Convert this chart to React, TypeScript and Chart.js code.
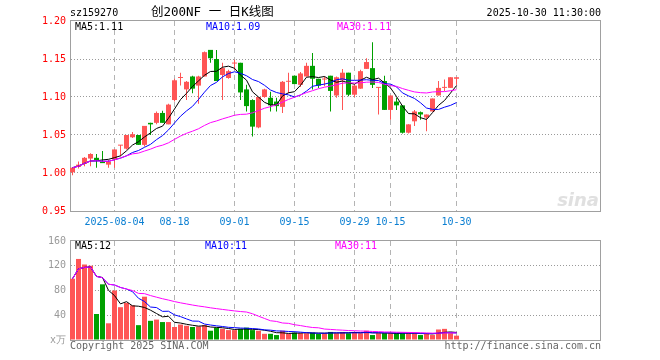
import React, { useEffect, useRef } from 'react';
import { Chart, registerables } from 'chart.js';

Chart.register(...registerables);

// ---------- data ----------
const dates = [
  '2025-07-24', '2025-07-25', '2025-07-28', '2025-07-29', '2025-07-30', '2025-07-31', '2025-08-01',
  '2025-08-04', '2025-08-05', '2025-08-06', '2025-08-07', '2025-08-08',
  '2025-08-11', '2025-08-12', '2025-08-13', '2025-08-14', '2025-08-15',
  '2025-08-18', '2025-08-19', '2025-08-20', '2025-08-21', '2025-08-22',
  '2025-08-25', '2025-08-26', '2025-08-27', '2025-08-28', '2025-08-29',
  '2025-09-01', '2025-09-02', '2025-09-03', '2025-09-04', '2025-09-05',
  '2025-09-08', '2025-09-09', '2025-09-10', '2025-09-11', '2025-09-12',
  '2025-09-15', '2025-09-16', '2025-09-17', '2025-09-18', '2025-09-19',
  '2025-09-22', '2025-09-23', '2025-09-24', '2025-09-25', '2025-09-26',
  '2025-09-29', '2025-09-30', '2025-10-09', '2025-10-10',
  '2025-10-13', '2025-10-14', '2025-10-15', '2025-10-16', '2025-10-17',
  '2025-10-20', '2025-10-21', '2025-10-22', '2025-10-23', '2025-10-24',
  '2025-10-27', '2025-10-28', '2025-10-29', '2025-10-30',
];

const openP = [
  1.001, 1.008, 1.012, 1.019, 1.020, 1.015, 1.011, 1.018, 1.036, 1.032,
  1.047, 1.050, 1.037, 1.066, 1.066, 1.079, 1.064, 1.096, 1.125, 1.110,
  1.127, 1.115, 1.127, 1.162, 1.150, 1.129, 1.125, 1.144, 1.145, 1.110,
  1.096, 1.060, 1.100, 1.099, 1.094, 1.087, 1.120, 1.128, 1.116, 1.127,
  1.141, 1.124, 1.123, 1.128, 1.102, 1.122, 1.132, 1.103, 1.111, 1.137,
  1.138, 1.112, 1.121, 1.083, 1.094, 1.089, 1.053, 1.068, 1.080, 1.073,
  1.081, 1.102, 1.112, 1.112, 1.124,
];
const highP = [
  1.007, 1.015, 1.021, 1.026, 1.025, 1.029, 1.017, 1.031, 1.037, 1.050,
  1.054, 1.050, 1.062, 1.066, 1.081, 1.082, 1.091, 1.124, 1.132, 1.121,
  1.128, 1.128, 1.160, 1.162, 1.162, 1.145, 1.136, 1.149, 1.145, 1.116,
  1.097, 1.100, 1.111, 1.107, 1.099, 1.121, 1.132, 1.128, 1.133, 1.145,
  1.158, 1.124, 1.127, 1.128, 1.127, 1.137, 1.132, 1.116, 1.136, 1.151,
  1.172, 1.113, 1.128, 1.102, 1.099, 1.089, 1.064, 1.083, 1.081, 1.077,
  1.098, 1.121, 1.123, 1.126, 1.126,
];
const lowP = [
  0.997, 1.006, 1.009, 1.009, 1.007, 1.013, 1.007, 1.007, 1.022, 1.031,
  1.046, 1.037, 1.035, 1.050, 1.064, 1.066, 1.064, 1.094, 1.115, 1.096,
  1.105, 1.091, 1.127, 1.145, 1.121, 1.096, 1.124, 1.136, 1.096, 1.081,
  1.048, 1.059, 1.099, 1.081, 1.081, 1.079, 1.105, 1.117, 1.113, 1.127,
  1.110, 1.112, 1.114, 1.081, 1.099, 1.083, 1.101, 1.100, 1.111, 1.137,
  1.112, 1.077, 1.083, 1.070, 1.083, 1.052, 1.052, 1.062, 1.070, 1.055,
  1.081, 1.102, 1.108, 1.112, 1.116,
];
const closeP = [
  1.007, 1.011, 1.020, 1.025, 1.017, 1.013, 1.015, 1.031, 1.037, 1.050,
  1.051, 1.037, 1.062, 1.064, 1.079, 1.066, 1.090, 1.122, 1.126, 1.120,
  1.111, 1.127, 1.159, 1.151, 1.121, 1.138, 1.134, 1.145, 1.106, 1.088,
  1.061, 1.100, 1.110, 1.089, 1.088, 1.120, 1.121, 1.117, 1.131, 1.141,
  1.124, 1.115, 1.124, 1.108, 1.126, 1.132, 1.103, 1.115, 1.134, 1.146,
  1.116, 1.113, 1.083, 1.102, 1.089, 1.053, 1.064, 1.081, 1.077, 1.077,
  1.098, 1.112, 1.113, 1.126, 1.126,
];

const ma5 = [
  1.007, 1.009, 1.0127, 1.0158, 1.016, 1.0172, 1.018, 1.0202, 1.0226, 1.0292,
  1.0368, 1.0412, 1.0474, 1.0528, 1.0586, 1.0616, 1.0722, 1.0842, 1.0966, 1.1048,
  1.1138, 1.1212, 1.1286, 1.1336, 1.1338, 1.1392, 1.1406, 1.1378, 1.1288, 1.1222,
  1.1068, 1.100, 1.093, 1.0896, 1.0896, 1.1014, 1.1056, 1.107, 1.1154, 1.126,
  1.1268, 1.1256, 1.127, 1.1224, 1.1194, 1.121, 1.1186, 1.1168, 1.122, 1.126,
  1.1228, 1.1248, 1.1184, 1.112, 1.1006, 1.088, 1.0782, 1.0778, 1.0728, 1.0704,
  1.0794, 1.089, 1.0954, 1.1052, 1.115,
];
const ma10 = [
  1.007, 1.009, 1.0127, 1.0158, 1.016, 1.0155, 1.0154, 1.0174, 1.0196, 1.0226,
  1.027, 1.0296, 1.0338, 1.0377, 1.0439, 1.0492, 1.0567, 1.0658, 1.0747, 1.0817,
  1.0877, 1.0967, 1.1064, 1.1151, 1.1193, 1.1265, 1.1309, 1.1332, 1.1312, 1.128,
  1.123, 1.1203, 1.1154, 1.1092, 1.1059, 1.1041, 1.1028, 1.100, 1.1025, 1.1078,
  1.1141, 1.1156, 1.117, 1.1189, 1.1227, 1.1239, 1.1221, 1.1219, 1.1222, 1.1227,
  1.1219, 1.1217, 1.1176, 1.117, 1.1133, 1.1054, 1.1015, 1.0981, 1.0924, 1.0855,
  1.0837, 1.0836, 1.0866, 1.089, 1.0927,
];
const ma30 = [
  1.007, 1.009, 1.0127, 1.0158, 1.016, 1.0155, 1.0154, 1.0174, 1.0196, 1.0226,
  1.0252, 1.0262, 1.0289, 1.0314, 1.0346, 1.0366, 1.0397, 1.0443, 1.0486, 1.0522,
  1.055, 1.0582, 1.0626, 1.0663, 1.0685, 1.0712, 1.0735, 1.076, 1.0771, 1.0774,
  1.0792, 1.0822, 1.0852, 1.0873, 1.0897, 1.0933, 1.0968, 1.0997, 1.1028, 1.1058,
  1.1083, 1.1109, 1.1129, 1.1144, 1.116, 1.1182, 1.1186, 1.1184, 1.1186, 1.1195,
  1.1197, 1.1192, 1.1167, 1.115, 1.114, 1.1111, 1.1088, 1.1067, 1.1057, 1.1053,
  1.1066, 1.107, 1.1071, 1.1083, 1.1096,
];

const volume = [
  99, 131, 122, 120, 42, 90, 27, 80, 53, 60,
  56, 24, 70, 31, 33, 29, 29, 21, 25, 23,
  21, 22, 24, 15, 20, 18, 16, 16, 18, 20,
  16, 15, 10, 10, 8, 15, 10, 12, 11, 11,
  12, 10, 11, 13, 11, 13, 11, 13, 11, 15,
  8, 11, 11, 11, 11, 11, 11, 11, 8, 11,
  8, 17, 18, 11, 7,
];
const volMa5 = [
  99, 115, 117.3, 118, 102.8, 101, 80.2, 71.8, 58.4, 62,
  55.2, 54.6, 52.6, 48.2, 42.8, 37.4, 38.4, 28.6, 27.4, 25.4,
  23.8, 22.4, 23, 21, 20.4, 19.8, 18.6, 17, 17.6, 17.6,
  17.2, 17, 15.8, 14.2, 11.8, 11.6, 10.6, 11, 11.2, 11.8,
  11.2, 11.2, 11, 11.4, 11.4, 11.6, 11.8, 12.2, 11.8, 12.6,
  11.6, 11.6, 11.2, 11.2, 10.4, 11, 11, 11, 10.4, 10.4,
  9.8, 11, 12.4, 13, 12.2,
];
const volMa10 = [
  99, 115, 117.3, 118, 102.8, 100.7, 90.1, 88.9, 84.9, 82.4,
  78.1, 67.4, 62.2, 53.3, 52.4, 46.3, 46.5, 40.6, 37.8, 34.1,
  30.6, 30.4, 25.8, 24.2, 22.9, 21.8, 20.5, 20, 19.3, 19,
  18.5, 17.8, 16.4, 15.9, 14.7, 14.4, 13.8, 13.4, 12.7, 11.8,
  11.4, 10.9, 11, 11.3, 11.6, 11.4, 11.5, 11.6, 11.6, 12,
  11.6, 11.7, 11.7, 11.5, 11.5, 11.3, 11.3, 11.1, 10.8, 10.4,
  10.4, 11, 11.7, 11.7, 11.3,
];
const volMa30 = [
  99, 115, 117.3, 118, 102.8, 100.7, 90.1, 88.9, 84.9, 82.4,
  80, 75.3, 74.9, 71.8, 69.2, 66.7, 64.5, 62.1, 60.1, 58.3,
  56.5, 54.9, 53.6, 52, 50.7, 49.4, 48.2, 47, 46, 45.2,
  42.4, 38.5, 34.8, 31.1, 30, 27.5, 26.9, 24.7, 23.3, 21.6,
  20.2, 19.7, 17.7, 17.1, 16.4, 15.9, 15.3, 15, 14.5, 14.3,
  13.8, 13.5, 13, 12.9, 12.6, 12.4, 12.2, 12, 11.7, 11.4,
  11.1, 11.2, 11.47, 11.5, 11.47,
];

const tickDates = ['2025-08-04', '2025-08-18', '2025-09-01', '2025-09-15', '2025-09-29', '2025-10-15', '2025-10-30'];
const tickLabels = ['2025-08-04', '08-18', '09-01', '09-15', '09-29', '10-15', '10-30'];
const priceTicks = [0.95, 1.0, 1.05, 1.1, 1.15, 1.2];
const volTicks = [0, 40, 80, 120, 160];

const symbol = 'sz159270';
const title = '创200NF 一 日K线图';
const stamp = '2025-10-30 11:30:00';

// ---------- style ----------
const RED = '#ff5555';
const GREEN = '#00a000';
const MONO = '"DejaVu Sans Mono", "Liberation Mono", monospace';
const F10 = `10px ${MONO}`;
const X_MIN = -0.25;
const X_MAX = 88.0833;
const LAST = dates.length - 1;

const candleColors = dates.map((_, i) => (closeP[i] >= openP[i] ? RED : GREEN));
const tickIdx = tickDates.map((d) => dates.indexOf(d));

function txt(ctx: CanvasRenderingContext2D, s: string, x: number, y: number, color: string, font: string, align: CanvasTextAlign = 'left') {
  ctx.save();
  ctx.font = font;
  ctx.fillStyle = color;
  ctx.textAlign = align;
  ctx.textBaseline = 'middle';
  ctx.fillText(s, x, y);
  ctx.restore();
}

function xAxis(showLabels: boolean, height: number): any {
  return {
    type: 'linear',
    min: X_MIN,
    max: X_MAX,
    offset: false,
    bounds: 'ticks',
    afterBuildTicks: (s: any) => {
      s.ticks = tickIdx.map((v) => ({ value: v }));
    },
    afterFit: (s: any) => {
      s.height = height;
    },
    ticks: {
      display: showLabels,
      autoSkip: false,
      maxRotation: 0,
      minRotation: 0,
      padding: 5,
      color: '#0b7fd2',
      font: { family: MONO, size: 10 },
      callback: (v: any) => {
        const k = tickIdx.indexOf(Number(v));
        return k >= 0 ? tickLabels[k] : '';
      },
    },
    grid: { color: '#b4b4b4', lineWidth: 1, drawTicks: false, offset: false },
    border: { display: false, dash: [5, 4] },
  };
}

function yAxis(ticksArr: number[], min: number, max: number, color: string, fmt: (v: number) => string): any {
  return {
    type: 'linear',
    position: 'left',
    min,
    max,
    afterBuildTicks: (s: any) => {
      s.ticks = ticksArr.map((v) => ({ value: v }));
    },
    afterFit: (s: any) => {
      s.width = 71;
    },
    ticks: {
      color,
      padding: 5,
      font: { family: MONO, size: 10 },
      callback: (v: any) => fmt(Number(v)),
    },
    grid: {
      drawTicks: false,
      lineWidth: 1,
      color: (c: any) => {
        const v = c.tick ? c.tick.value : NaN;
        return Math.abs(v - min) < 1e-6 || Math.abs(v - max) < 1e-6 ? 'rgba(0,0,0,0)' : '#9a9a9a';
      },
    },
    border: { display: false, dash: [1, 2] },
  };
}

function lineDs(label: string, values: number[], color: string, order: number): any {
  return {
    type: 'line',
    label,
    data: values.map((v, i) => ({ x: i, y: v })),
    borderColor: color,
    borderWidth: 1,
    pointRadius: 0,
    tension: 0,
    fill: false,
    order,
    clip: false,
  };
}

const pricePlugin = {
  id: 'priceDecor',
  beforeDatasetsDraw(chart: any) {
    const ctx = chart.ctx as CanvasRenderingContext2D;
    ctx.save();
    ctx.strokeStyle = '#a0a0a0';
    ctx.lineWidth = 1;
    ctx.strokeRect(70.5, 20.5, 530, 191);
    ctx.restore();
    txt(ctx, 'sina', 599, 201, '#e0e0e0', 'italic bold 18px "DejaVu Sans", sans-serif', 'right');
  },
  afterDraw(chart: any) {
    const ctx = chart.ctx as CanvasRenderingContext2D;
    txt(ctx, symbol, 70, 13, '#000000', F10);
    txt(ctx, title, 151, 13, '#000000', '12.5px "DejaVu Sans Mono", "Noto Sans CJK SC", sans-serif');
    txt(ctx, stamp, 601, 13, '#000000', F10, 'right');
    txt(ctx, `MA5:${ma5[LAST].toFixed(2)}`, 75, 27, '#000000', F10);
    txt(ctx, `MA10:${ma10[LAST].toFixed(2)}`, 206, 27, '#0000ff', F10);
    txt(ctx, `MA30:${ma30[LAST].toFixed(2)}`, 337, 27, '#ff00ff', F10);
  },
};

const volPlugin = {
  id: 'volDecor',
  beforeDatasetsDraw(chart: any) {
    const ctx = chart.ctx as CanvasRenderingContext2D;
    ctx.save();
    ctx.strokeStyle = '#a0a0a0';
    ctx.lineWidth = 1;
    ctx.strokeRect(70.5, 10.5, 530, 100);
    ctx.restore();
  },
  afterDraw(chart: any) {
    const ctx = chart.ctx as CanvasRenderingContext2D;
    txt(ctx, `MA5:${volMa5[LAST].toFixed(0)}`, 75, 16, '#000000', F10);
    txt(ctx, `MA10:${volMa10[LAST].toFixed(0)}`, 205, 16, '#0000ff', F10);
    txt(ctx, `MA30:${volMa30[LAST].toFixed(0)}`, 335, 16, '#ff00ff', F10);
    txt(ctx, 'Copyright 2025 SINA.COM', 70, 116, '#666666', F10);
    txt(ctx, 'http://finance.sina.com.cn', 601, 116, '#666666', F10, 'right');
  },
};

function priceConfig(): any {
  return {
    type: 'bar',
    data: {
      datasets: [
        {
          type: 'bar',
          label: 'wick',
          data: dates.map((_, i) => ({ x: i, y: [lowP[i], highP[i]] })),
          backgroundColor: candleColors,
          borderWidth: 0,
          barThickness: 1,
          grouped: false,
          inflateAmount: 0,
          order: 11,
          clip: false,
        },
        {
          type: 'bar',
          label: 'body',
          data: dates.map((_, i) => ({ x: i, y: [openP[i], closeP[i]] })),
          backgroundColor: candleColors,
          borderWidth: 0,
          barThickness: 5,
          minBarLength: 1,
          grouped: false,
          inflateAmount: 0,
          order: 10,
          clip: false,
        },
        lineDs('MA5', ma5, '#000000', 3),
        lineDs('MA10', ma10, '#0000ff', 2),
        lineDs('MA30', ma30, '#ff00ff', 1),
      ],
    },
    options: {
      responsive: false,
      animation: false,
      devicePixelRatio: 1,
      events: [],
      layout: { padding: { top: 21, right: 59, bottom: 0, left: 0 } },
      plugins: { legend: { display: false }, tooltip: { enabled: false } },
      scales: {
        x: xAxis(true, 24),
        y: yAxis(priceTicks, 0.95, 1.2, '#ff0000', (v) => v.toFixed(2)),
      },
    },
    plugins: [pricePlugin],
  };
}

function volConfig(): any {
  return {
    type: 'bar',
    data: {
      datasets: [
        {
          type: 'bar',
          label: 'volume',
          data: volume.map((v, i) => ({ x: i, y: v })),
          backgroundColor: candleColors,
          borderWidth: 0,
          barThickness: 5,
          grouped: false,
          inflateAmount: 0,
          order: 10,
          clip: false,
        },
        lineDs('VMA5', volMa5, '#000000', 3),
        lineDs('VMA10', volMa10, '#0000ff', 2),
        lineDs('VMA30', volMa30, '#ff00ff', 1),
      ],
    },
    options: {
      responsive: false,
      animation: false,
      devicePixelRatio: 1,
      events: [],
      layout: { padding: { top: 10, right: 59, bottom: 0, left: 0 } },
      plugins: { legend: { display: false }, tooltip: { enabled: false } },
      scales: {
        x: xAxis(false, 20),
        y: yAxis(volTicks, 0, 160, '#999999', (v) => (v === 0 ? 'x万' : String(v))),
      },
    },
    plugins: [volPlugin],
  };
}

export default function App() {
  const priceRef = useRef<HTMLCanvasElement>(null);
  const volRef = useRef<HTMLCanvasElement>(null);

  useEffect(() => {
    const c1 = new Chart(priceRef.current as HTMLCanvasElement, priceConfig());
    const c2 = new Chart(volRef.current as HTMLCanvasElement, volConfig());
    return () => {
      c1.destroy();
      c2.destroy();
    };
  }, []);

  return (
    <div style={{ position: 'absolute', left: 0, top: 0, width: 660, height: 360, background: '#ffffff', overflow: 'hidden' }}>
      <canvas ref={priceRef} width={660} height={235} style={{ position: 'absolute', left: 0, top: 0, width: 660, height: 235 }} />
      <canvas ref={volRef} width={660} height={130} style={{ position: 'absolute', left: 0, top: 230, width: 660, height: 130 }} />
    </div>
  );
}
